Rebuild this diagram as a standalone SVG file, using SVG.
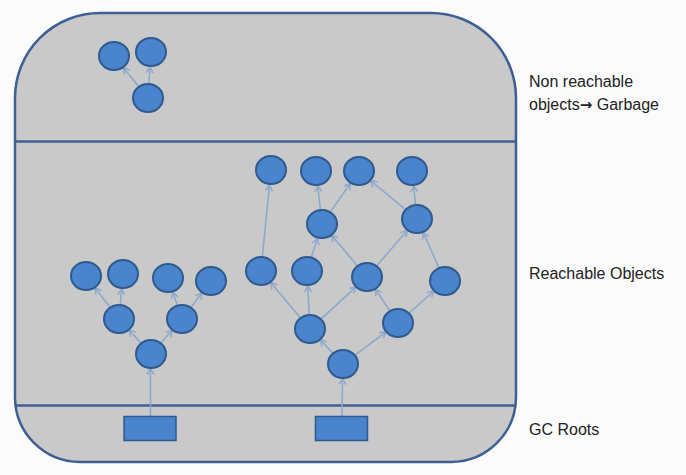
<svg xmlns="http://www.w3.org/2000/svg" width="686" height="475" viewBox="0 0 686 475">
<style>
.panel{fill:#c9c9c9;stroke:#3d5f94;stroke-width:2.5}
.div{stroke:#3d5f94;stroke-width:2.5}
.node{fill:#4a84cc;stroke:#2f5a8e;stroke-width:2}
.root{fill:#4a84cc;stroke:#2f5a8e;stroke-width:1.5}
.edge{stroke:#8ea8cc;stroke-width:1.6;fill:none;marker-end:url(#arr)}
.lbl{font-family:"Liberation Sans",Arial,sans-serif;font-size:16px;fill:#222}
.arw{font-family:"DejaVu Sans",sans-serif;font-weight:bold;font-size:15px}
</style>
<defs>
<marker id="arr" markerUnits="userSpaceOnUse" markerWidth="10" markerHeight="10" refX="8" refY="5" orient="auto">
<path d="M2,1.5 L8,5 L2,8.5" fill="none" stroke="#8ea8cc" stroke-width="1.5"/>
</marker>
</defs>
<rect width="686" height="475" fill="#fbfbfb"/>
<g id="panel">
<path class="panel" d="M15,98 A85,85 0 0 1 100,13 L431,13 A85,85 0 0 1 516,98 L516,397 A65,65 0 0 1 451,462 L80,462 A65,65 0 0 1 15,397 Z"/>
<line class="div" x1="15" y1="141.5" x2="516" y2="141.5"/>
<line class="div" x1="15" y1="405.5" x2="516" y2="405.5"/>
</g>
<g id="connectors">
<line class="edge" x1="138.9" y1="86.7" x2="123.4" y2="67.7"/>
<line class="edge" x1="148.9" y1="83.5" x2="150" y2="67"/>
<line class="edge" x1="150.5" y1="416" x2="150.5" y2="368.5"/>
<line class="edge" x1="141.2" y1="343.3" x2="129.1" y2="330.1"/>
<line class="edge" x1="160.6" y1="343.2" x2="172.1" y2="330.2"/>
<line class="edge" x1="110.2" y1="307.5" x2="95.1" y2="287.9"/>
<line class="edge" x1="120.3" y1="304.6" x2="121.7" y2="288.9"/>
<line class="edge" x1="177.3" y1="305.3" x2="172.8" y2="292.2"/>
<line class="edge" x1="190.8" y1="307.5" x2="201.9" y2="292.9"/>
<line class="edge" x1="342" y1="416" x2="342.5" y2="378.5"/>
<line class="edge" x1="333.1" y1="353.4" x2="320.3" y2="339.9"/>
<line class="edge" x1="354.6" y1="355.3" x2="386" y2="332"/>
<line class="edge" x1="300.6" y1="317.9" x2="270.7" y2="282.5"/>
<line class="edge" x1="309.2" y1="314.5" x2="307.8" y2="286"/>
<line class="edge" x1="320.7" y1="319.2" x2="355.9" y2="287.1"/>
<line class="edge" x1="389.9" y1="311" x2="375.4" y2="289.4"/>
<line class="edge" x1="408.8" y1="313.3" x2="433.8" y2="291"/>
<line class="edge" x1="262.4" y1="256.6" x2="269.5" y2="184.9"/>
<line class="edge" x1="311.4" y1="257.2" x2="317.4" y2="238.3"/>
<line class="edge" x1="357.6" y1="266" x2="331.7" y2="235.4"/>
<line class="edge" x1="376.5" y1="266" x2="407.2" y2="230.4"/>
<line class="edge" x1="439" y1="267.8" x2="423.2" y2="232.7"/>
<line class="edge" x1="320.4" y1="209.6" x2="317.7" y2="185.9"/>
<line class="edge" x1="330.3" y1="212.1" x2="350.4" y2="183.3"/>
<line class="edge" x1="405.8" y1="209.8" x2="370.6" y2="180.6"/>
<line class="edge" x1="415.5" y1="204.6" x2="413.6" y2="185.9"/>
</g>
<g id="garbage-1"><ellipse class="node" cx="114" cy="56" rx="15" ry="14"/></g>
<g id="garbage-2"><ellipse class="node" cx="151" cy="52" rx="15" ry="14"/></g>
<g id="garbage-3"><ellipse class="node" cx="148" cy="98" rx="15" ry="14"/></g>
<g id="l-leaf-1"><ellipse class="node" cx="86" cy="276" rx="15" ry="14"/></g>
<g id="l-leaf-2"><ellipse class="node" cx="123" cy="274" rx="15" ry="14"/></g>
<g id="l-leaf-3"><ellipse class="node" cx="168" cy="278" rx="15" ry="14"/></g>
<g id="l-leaf-4"><ellipse class="node" cx="211" cy="281" rx="15" ry="14"/></g>
<g id="l-mid-1"><ellipse class="node" cx="119" cy="319" rx="15" ry="14"/></g>
<g id="l-mid-2"><ellipse class="node" cx="182" cy="319" rx="15" ry="14"/></g>
<g id="l-base"><ellipse class="node" cx="151" cy="354" rx="15" ry="14"/></g>
<g id="r-t1"><ellipse class="node" cx="271" cy="170" rx="15" ry="14"/></g>
<g id="r-t2"><ellipse class="node" cx="316" cy="171" rx="15" ry="14"/></g>
<g id="r-t3"><ellipse class="node" cx="359" cy="171" rx="15" ry="14"/></g>
<g id="r-t4"><ellipse class="node" cx="412" cy="171" rx="15" ry="14"/></g>
<g id="r-a"><ellipse class="node" cx="322" cy="224" rx="15" ry="14"/></g>
<g id="r-b"><ellipse class="node" cx="417" cy="219" rx="15" ry="14"/></g>
<g id="r-c1"><ellipse class="node" cx="261" cy="271" rx="15" ry="14"/></g>
<g id="r-c2"><ellipse class="node" cx="307" cy="271" rx="15" ry="14"/></g>
<g id="r-c3"><ellipse class="node" cx="367" cy="277" rx="15" ry="14"/></g>
<g id="r-c4"><ellipse class="node" cx="445" cy="281" rx="15" ry="14"/></g>
<g id="r-d1"><ellipse class="node" cx="310" cy="329" rx="15" ry="14"/></g>
<g id="r-d2"><ellipse class="node" cx="398" cy="323" rx="15" ry="14"/></g>
<g id="r-base"><ellipse class="node" cx="343" cy="364" rx="15" ry="14"/></g>
<g id="gc-root-1"><rect class="root" x="124" y="416.5" width="52" height="24"/></g>
<g id="gc-root-2"><rect class="root" x="315.5" y="416.5" width="52" height="24"/></g>
<g id="labels">
<text class="lbl" x="529" y="87">Non reachable</text>
<text class="lbl" x="529" y="110">objects<tspan class="arw">→</tspan> Garbage</text>
<text class="lbl" x="529" y="279">Reachable Objects</text>
<text class="lbl" x="529" y="435">GC Roots</text>
</g>
</svg>
